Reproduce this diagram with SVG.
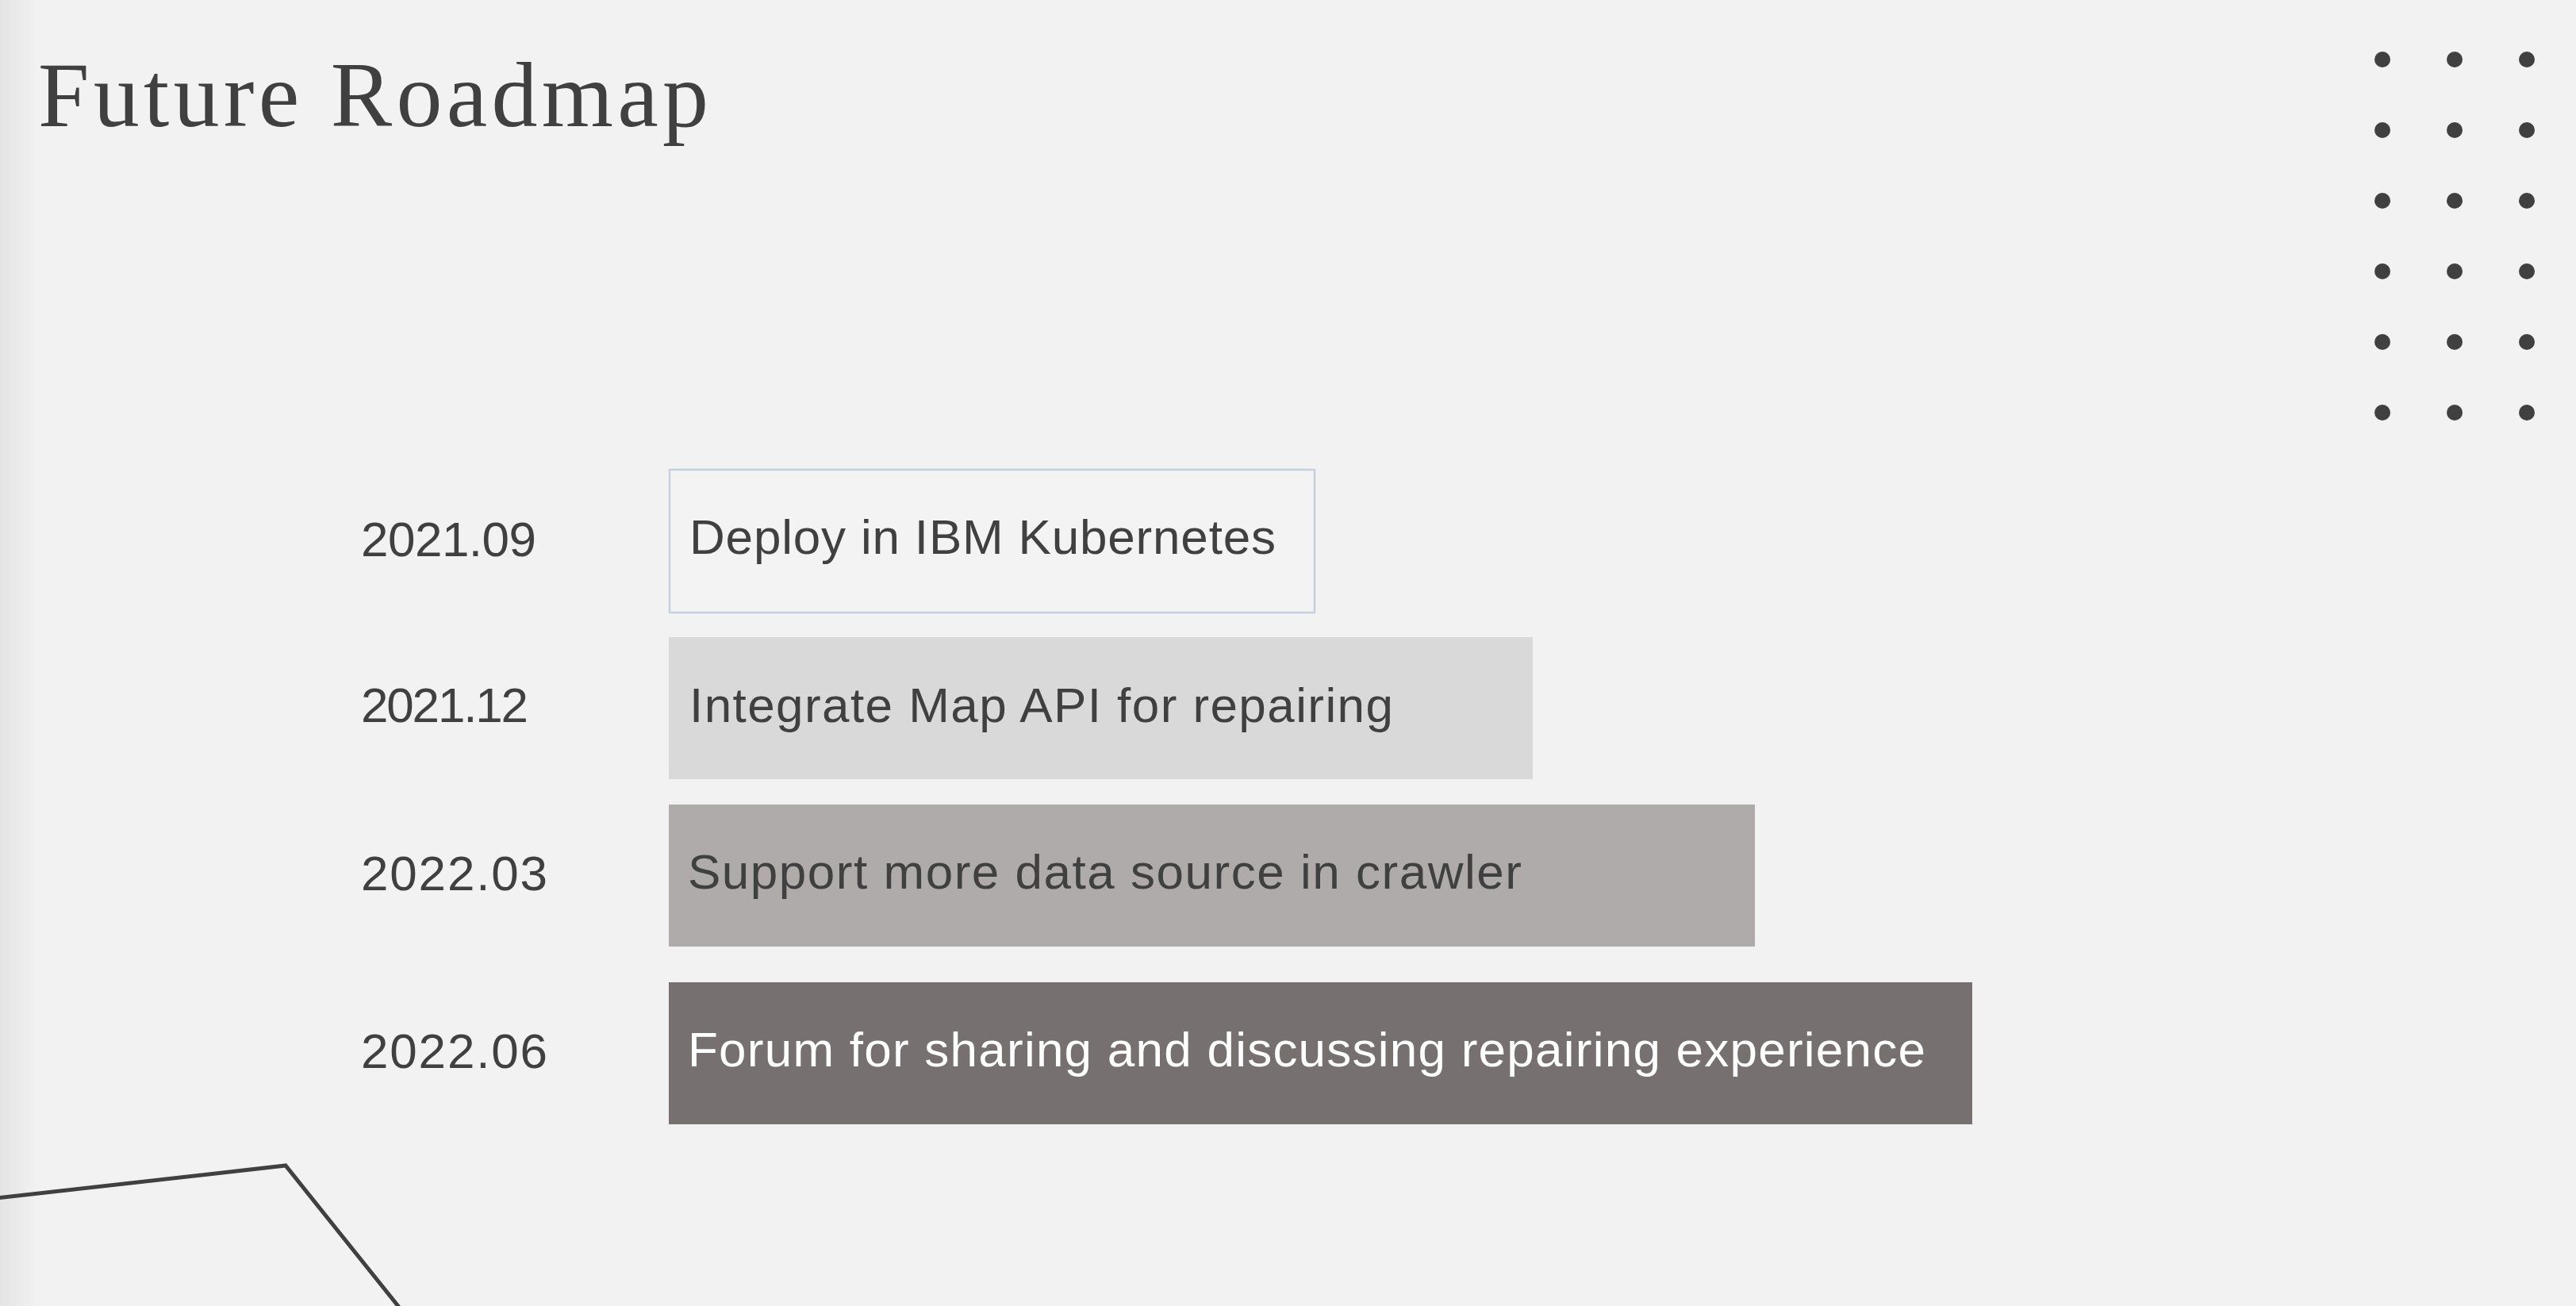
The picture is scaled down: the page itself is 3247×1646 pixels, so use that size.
<svg xmlns="http://www.w3.org/2000/svg" width="3247" height="1646" viewBox="0 0 3247 1646">
  <defs>
    <linearGradient id="edge" x1="0" y1="0" x2="1" y2="0">
      <stop offset="0" stop-color="#e4e4e4"/>
      <stop offset="1" stop-color="#f2f2f2"/>
    </linearGradient>
  </defs>
  <style>
    .title { font-family: "Liberation Serif", "DejaVu Serif", serif; font-size: 116px; fill: #404040; }
    .date { font-family: "Liberation Sans", Arial, sans-serif; font-size: 62px; fill: #404040; }
    .label { font-family: "Liberation Sans", Arial, sans-serif; font-size: 62px; fill: #404040; }
    .label-light { fill: #ffffff; }
    .dot { fill: #404040; }
    .deco { fill: none; stroke: #404040; stroke-width: 5; stroke-linejoin: miter; }
  </style>
  <rect x="0" y="0" width="3247" height="1646" fill="#f2f2f2"/>
  <rect x="0" y="0" width="50" height="1646" fill="url(#edge)"/>

  <text class="title" x="48" y="159" textLength="845" lengthAdjust="spacing">Future Roadmap</text>

  <g id="dots">
    <circle class="dot" cx="3003" cy="75" r="10"/>
    <circle class="dot" cx="3094" cy="75" r="10"/>
    <circle class="dot" cx="3185" cy="75" r="10"/>
    <circle class="dot" cx="3003" cy="164" r="10"/>
    <circle class="dot" cx="3094" cy="164" r="10"/>
    <circle class="dot" cx="3185" cy="164" r="10"/>
    <circle class="dot" cx="3003" cy="253" r="10"/>
    <circle class="dot" cx="3094" cy="253" r="10"/>
    <circle class="dot" cx="3185" cy="253" r="10"/>
    <circle class="dot" cx="3003" cy="342" r="10"/>
    <circle class="dot" cx="3094" cy="342" r="10"/>
    <circle class="dot" cx="3185" cy="342" r="10"/>
    <circle class="dot" cx="3003" cy="431" r="10"/>
    <circle class="dot" cx="3094" cy="431" r="10"/>
    <circle class="dot" cx="3185" cy="431" r="10"/>
    <circle class="dot" cx="3003" cy="520" r="10"/>
    <circle class="dot" cx="3094" cy="520" r="10"/>
    <circle class="dot" cx="3185" cy="520" r="10"/>
  </g>

  <g id="deco-line">
    <polyline class="deco" points="-5,1510 360,1469 505,1650"/>
  </g>

  <g id="connectors"></g>

  <g id="row-2021-09">
    <text class="date" x="455" y="701" textLength="221" lengthAdjust="spacing">2021.09</text>
    <rect x="844" y="592" width="813" height="180" fill="#f3f3f3" stroke="#c6d0da" stroke-width="2.5"/>
    <text class="label" x="869" y="698" textLength="739" lengthAdjust="spacing">Deploy in IBM Kubernetes</text>
  </g>

  <g id="row-2021-12">
    <text class="date" x="455" y="910" textLength="211" lengthAdjust="spacing">2021.12</text>
    <rect x="843" y="803" width="1089" height="179" fill="#d9d9d9"/>
    <text class="label" x="869" y="910" textLength="887" lengthAdjust="spacing">Integrate Map API for repairing</text>
  </g>

  <g id="row-2022-03">
    <text class="date" x="455" y="1122" textLength="235" lengthAdjust="spacing">2022.03</text>
    <rect x="843" y="1014" width="1369" height="179" fill="#b0abab"/>
    <text class="label" x="867" y="1120" textLength="1051" lengthAdjust="spacing">Support more data source in crawler</text>
  </g>

  <g id="row-2022-06">
    <text class="date" x="455" y="1346" textLength="235" lengthAdjust="spacing">2022.06</text>
    <rect x="843" y="1238" width="1643" height="179" fill="#767071"/>
    <text class="label label-light" x="867" y="1344" textLength="1560" lengthAdjust="spacing">Forum for sharing and discussing repairing experience</text>
  </g>
</svg>
